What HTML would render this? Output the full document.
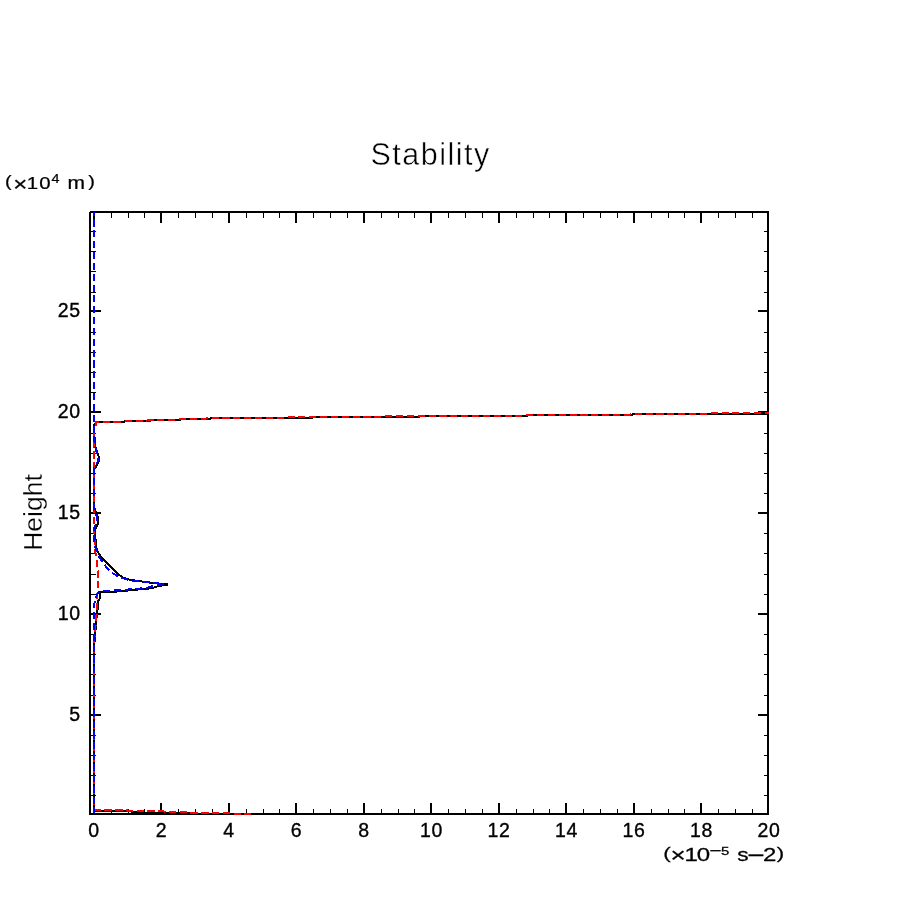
<!DOCTYPE html>
<html lang="en">
<head>
<meta charset="utf-8">
<title>Stability</title>
<style>
html,body{margin:0;padding:0;background:#fff;width:904px;height:904px;overflow:hidden}
svg{display:block}
text{font-family:"Liberation Sans",sans-serif;fill:#000}
</style>
</head>
<body>
<svg width="904" height="904" viewBox="0 0 904 904">
<rect x="0" y="0" width="904" height="904" fill="#fff"/>
<g shape-rendering="crispEdges">
<rect x="90" y="211" width="679" height="2" fill="#000"/>
<rect x="89" y="813" width="680" height="2" fill="#000"/>
<rect x="89" y="212" width="2" height="603" fill="#000"/>
<rect x="767" y="211" width="2" height="604" fill="#000"/>
<rect x="93" y="211" width="2" height="12" fill="#000"/>
<rect x="93" y="803" width="2" height="12" fill="#000"/>
<rect x="111" y="211" width="1" height="7" fill="#000"/>
<rect x="111" y="809" width="1" height="6" fill="#000"/>
<rect x="128" y="211" width="1" height="7" fill="#000"/>
<rect x="128" y="809" width="1" height="6" fill="#000"/>
<rect x="144" y="211" width="1" height="7" fill="#000"/>
<rect x="144" y="809" width="1" height="6" fill="#000"/>
<rect x="160" y="211" width="2" height="12" fill="#000"/>
<rect x="160" y="803" width="2" height="12" fill="#000"/>
<rect x="178" y="211" width="1" height="7" fill="#000"/>
<rect x="178" y="809" width="1" height="6" fill="#000"/>
<rect x="195" y="211" width="1" height="7" fill="#000"/>
<rect x="195" y="809" width="1" height="6" fill="#000"/>
<rect x="212" y="211" width="1" height="7" fill="#000"/>
<rect x="212" y="809" width="1" height="6" fill="#000"/>
<rect x="228" y="211" width="2" height="12" fill="#000"/>
<rect x="228" y="803" width="2" height="12" fill="#000"/>
<rect x="246" y="211" width="1" height="7" fill="#000"/>
<rect x="246" y="809" width="1" height="6" fill="#000"/>
<rect x="263" y="211" width="1" height="7" fill="#000"/>
<rect x="263" y="809" width="1" height="6" fill="#000"/>
<rect x="279" y="211" width="1" height="7" fill="#000"/>
<rect x="279" y="809" width="1" height="6" fill="#000"/>
<rect x="295" y="211" width="2" height="12" fill="#000"/>
<rect x="295" y="803" width="2" height="12" fill="#000"/>
<rect x="313" y="211" width="1" height="7" fill="#000"/>
<rect x="313" y="809" width="1" height="6" fill="#000"/>
<rect x="330" y="211" width="1" height="7" fill="#000"/>
<rect x="330" y="809" width="1" height="6" fill="#000"/>
<rect x="347" y="211" width="1" height="7" fill="#000"/>
<rect x="347" y="809" width="1" height="6" fill="#000"/>
<rect x="363" y="211" width="2" height="12" fill="#000"/>
<rect x="363" y="803" width="2" height="12" fill="#000"/>
<rect x="381" y="211" width="1" height="7" fill="#000"/>
<rect x="381" y="809" width="1" height="6" fill="#000"/>
<rect x="398" y="211" width="1" height="7" fill="#000"/>
<rect x="398" y="809" width="1" height="6" fill="#000"/>
<rect x="414" y="211" width="1" height="7" fill="#000"/>
<rect x="414" y="809" width="1" height="6" fill="#000"/>
<rect x="430" y="211" width="2" height="12" fill="#000"/>
<rect x="430" y="803" width="2" height="12" fill="#000"/>
<rect x="448" y="211" width="1" height="7" fill="#000"/>
<rect x="448" y="809" width="1" height="6" fill="#000"/>
<rect x="465" y="211" width="1" height="7" fill="#000"/>
<rect x="465" y="809" width="1" height="6" fill="#000"/>
<rect x="482" y="211" width="1" height="7" fill="#000"/>
<rect x="482" y="809" width="1" height="6" fill="#000"/>
<rect x="498" y="211" width="2" height="12" fill="#000"/>
<rect x="498" y="803" width="2" height="12" fill="#000"/>
<rect x="516" y="211" width="1" height="7" fill="#000"/>
<rect x="516" y="809" width="1" height="6" fill="#000"/>
<rect x="533" y="211" width="1" height="7" fill="#000"/>
<rect x="533" y="809" width="1" height="6" fill="#000"/>
<rect x="549" y="211" width="1" height="7" fill="#000"/>
<rect x="549" y="809" width="1" height="6" fill="#000"/>
<rect x="565" y="211" width="2" height="12" fill="#000"/>
<rect x="565" y="803" width="2" height="12" fill="#000"/>
<rect x="583" y="211" width="1" height="7" fill="#000"/>
<rect x="583" y="809" width="1" height="6" fill="#000"/>
<rect x="600" y="211" width="1" height="7" fill="#000"/>
<rect x="600" y="809" width="1" height="6" fill="#000"/>
<rect x="617" y="211" width="1" height="7" fill="#000"/>
<rect x="617" y="809" width="1" height="6" fill="#000"/>
<rect x="633" y="211" width="2" height="12" fill="#000"/>
<rect x="633" y="803" width="2" height="12" fill="#000"/>
<rect x="651" y="211" width="1" height="7" fill="#000"/>
<rect x="651" y="809" width="1" height="6" fill="#000"/>
<rect x="668" y="211" width="1" height="7" fill="#000"/>
<rect x="668" y="809" width="1" height="6" fill="#000"/>
<rect x="684" y="211" width="1" height="7" fill="#000"/>
<rect x="684" y="809" width="1" height="6" fill="#000"/>
<rect x="700" y="211" width="2" height="12" fill="#000"/>
<rect x="700" y="803" width="2" height="12" fill="#000"/>
<rect x="718" y="211" width="1" height="7" fill="#000"/>
<rect x="718" y="809" width="1" height="6" fill="#000"/>
<rect x="735" y="211" width="1" height="7" fill="#000"/>
<rect x="735" y="809" width="1" height="6" fill="#000"/>
<rect x="752" y="211" width="1" height="7" fill="#000"/>
<rect x="752" y="809" width="1" height="6" fill="#000"/>
<rect x="89" y="795" width="7" height="1" fill="#000"/>
<rect x="764" y="795" width="5" height="1" fill="#000"/>
<rect x="89" y="775" width="7" height="1" fill="#000"/>
<rect x="764" y="775" width="5" height="1" fill="#000"/>
<rect x="89" y="755" width="7" height="1" fill="#000"/>
<rect x="764" y="755" width="5" height="1" fill="#000"/>
<rect x="89" y="735" width="7" height="1" fill="#000"/>
<rect x="764" y="735" width="5" height="1" fill="#000"/>
<rect x="89" y="714" width="12" height="2" fill="#000"/>
<rect x="758" y="714" width="11" height="2" fill="#000"/>
<rect x="89" y="695" width="7" height="1" fill="#000"/>
<rect x="764" y="695" width="5" height="1" fill="#000"/>
<rect x="89" y="674" width="7" height="1" fill="#000"/>
<rect x="764" y="674" width="5" height="1" fill="#000"/>
<rect x="89" y="654" width="7" height="1" fill="#000"/>
<rect x="764" y="654" width="5" height="1" fill="#000"/>
<rect x="89" y="634" width="7" height="1" fill="#000"/>
<rect x="764" y="634" width="5" height="1" fill="#000"/>
<rect x="89" y="613" width="12" height="2" fill="#000"/>
<rect x="758" y="613" width="11" height="2" fill="#000"/>
<rect x="89" y="594" width="7" height="1" fill="#000"/>
<rect x="764" y="594" width="5" height="1" fill="#000"/>
<rect x="89" y="574" width="7" height="1" fill="#000"/>
<rect x="764" y="574" width="5" height="1" fill="#000"/>
<rect x="89" y="553" width="7" height="1" fill="#000"/>
<rect x="764" y="553" width="5" height="1" fill="#000"/>
<rect x="89" y="533" width="7" height="1" fill="#000"/>
<rect x="764" y="533" width="5" height="1" fill="#000"/>
<rect x="89" y="512" width="12" height="2" fill="#000"/>
<rect x="758" y="512" width="11" height="2" fill="#000"/>
<rect x="89" y="493" width="7" height="1" fill="#000"/>
<rect x="764" y="493" width="5" height="1" fill="#000"/>
<rect x="89" y="473" width="7" height="1" fill="#000"/>
<rect x="764" y="473" width="5" height="1" fill="#000"/>
<rect x="89" y="453" width="7" height="1" fill="#000"/>
<rect x="764" y="453" width="5" height="1" fill="#000"/>
<rect x="89" y="433" width="7" height="1" fill="#000"/>
<rect x="764" y="433" width="5" height="1" fill="#000"/>
<rect x="89" y="411" width="12" height="2" fill="#000"/>
<rect x="758" y="411" width="11" height="2" fill="#000"/>
<rect x="89" y="392" width="7" height="1" fill="#000"/>
<rect x="764" y="392" width="5" height="1" fill="#000"/>
<rect x="89" y="372" width="7" height="1" fill="#000"/>
<rect x="764" y="372" width="5" height="1" fill="#000"/>
<rect x="89" y="352" width="7" height="1" fill="#000"/>
<rect x="764" y="352" width="5" height="1" fill="#000"/>
<rect x="89" y="332" width="7" height="1" fill="#000"/>
<rect x="764" y="332" width="5" height="1" fill="#000"/>
<rect x="89" y="310" width="12" height="2" fill="#000"/>
<rect x="758" y="310" width="11" height="2" fill="#000"/>
<rect x="89" y="292" width="7" height="1" fill="#000"/>
<rect x="764" y="292" width="5" height="1" fill="#000"/>
<rect x="89" y="271" width="7" height="1" fill="#000"/>
<rect x="764" y="271" width="5" height="1" fill="#000"/>
<rect x="89" y="251" width="7" height="1" fill="#000"/>
<rect x="764" y="251" width="5" height="1" fill="#000"/>
<rect x="89" y="231" width="7" height="1" fill="#000"/>
<rect x="764" y="231" width="5" height="1" fill="#000"/>
</g>
<g shape-rendering="crispEdges">
<polyline points="769,414 633,414 632,415 528,415 527,416 420,416 419,417 313,417 312,418 211,418 210,419 181,419 180,420 151,420 150,421 125,421 124,422 96,422 96,423 94,425 94,437 95,438 95,445 96,449 98,455 99,457 99,461 97,465 95,468 94,470 94,507 95,509 96,513 98,517 98,523 97,526 95,529 95,538 96,541 96,547 97,550 98,552 99,554 103,559 108,564 113,569 118,574 123,577.4 128,579.3 137.8,581 147.8,582.3 157.7,583.6 167.5,584.5 157.7,586.3 151.7,588.3 137.8,589.5 125.8,590.8 113,591.8 100,592 100,598.5 98,601 98,608 97,611 97,616 96,620 96,628 95,632 95,640 94,643 94,809 95,811 128,811 135,812.3 170,813 210,814" fill="none" stroke="#000" stroke-width="2" stroke-linejoin="miter"/>
<polyline points="94,808 94,642 95,632 96,621 97,610 97,598 98,589 98,573 97,563 96,556 95,549 94,530 94,426" fill="none" stroke="#f00" stroke-width="2" stroke-linejoin="miter" stroke-dasharray="7.1 3.75" stroke-dashoffset="8.15"/>
<polyline points="96,426.2 96,422 121,422" fill="none" stroke="#f00" stroke-width="2" stroke-linejoin="miter" stroke-dasharray="7.1 3.75" stroke-dashoffset="0"/>
<polyline points="121,421 147,421" fill="none" stroke="#f00" stroke-width="2" stroke-linejoin="miter" stroke-dasharray="7.1 3.75" stroke-dashoffset="7.1"/>
<polyline points="147,420 178,420" fill="none" stroke="#f00" stroke-width="2" stroke-linejoin="miter" stroke-dasharray="7.1 3.75" stroke-dashoffset="0.55"/>
<polyline points="178,419 206,419" fill="none" stroke="#f00" stroke-width="2" stroke-linejoin="miter" stroke-dasharray="7.1 3.75" stroke-dashoffset="9.85"/>
<polyline points="206,418 284,418" fill="none" stroke="#f00" stroke-width="2" stroke-linejoin="miter" stroke-dasharray="7.1 3.75" stroke-dashoffset="5.3"/>
<polyline points="284,417 385,417" fill="none" stroke="#f00" stroke-width="2" stroke-linejoin="miter" stroke-dasharray="7.1 3.75" stroke-dashoffset="7.35"/>
<polyline points="385,416 525,416" fill="none" stroke="#f00" stroke-width="2" stroke-linejoin="miter" stroke-dasharray="7.1 3.75" stroke-dashoffset="10.7"/>
<polyline points="525,415 630,415" fill="none" stroke="#f00" stroke-width="2" stroke-linejoin="miter" stroke-dasharray="7.1 3.75" stroke-dashoffset="9.65"/>
<polyline points="630,414 708,414" fill="none" stroke="#f00" stroke-width="2" stroke-linejoin="miter" stroke-dasharray="7.1 3.75" stroke-dashoffset="6.15"/>
<polyline points="708,413 769,413" fill="none" stroke="#f00" stroke-width="2" stroke-linejoin="miter" stroke-dasharray="7.1 3.75" stroke-dashoffset="8.2"/>
<polyline points="94,810 126,810 129,811 162,811 166,812 205,812.8 251,814" fill="none" stroke="#f00" stroke-width="2" stroke-linejoin="miter" stroke-dasharray="7.4 3.4" stroke-dashoffset="0.45"/>
<polyline points="94,212 94,437 95,446 97,454 98,457 98,461 96,465 94,468.5 94,500" fill="none" stroke="#00f" stroke-width="2" stroke-linejoin="miter" stroke-dasharray="7.1 3.75" stroke-dashoffset="3.45"/>
<polyline points="94,640 94,610 94.5,603 96,597 98,592.8 100,591.3 107.9,591 117.9,590.1 127.8,589.5 137.8,588.8 147.8,587.6 151.7,586.3 156.7,585 164,584.3 157.7,583.3 147.8,582.3 137.8,581.2 129.8,580.3 123,578.3 118,576.4 113,573.4 108,569 103,563 98,555 96,550 95,545 94,540 94,528 96,525 97,522 97,517 95,512 94,509 94,500" fill="none" stroke="#00f" stroke-width="2" stroke-linejoin="miter" stroke-dasharray="7.1 3.75" stroke-dashoffset="0.85"/>
<polyline points="94,640 94,813" fill="none" stroke="#00f" stroke-width="2" stroke-linejoin="miter" stroke-dasharray="7.1 3.75" stroke-dashoffset="6.25"/>
</g>
<g>
<text x="430.6" y="164.5" font-size="30.5" text-anchor="middle" letter-spacing="1.5" stroke="#fff" stroke-width="0.5">Stability</text>
<text x="94.0" y="836.9" font-size="19.5" text-anchor="middle" letter-spacing="0.7" stroke="#000" stroke-width="0.35">0</text>
<text x="161.5" y="836.9" font-size="19.5" text-anchor="middle" letter-spacing="0.7" stroke="#000" stroke-width="0.35">2</text>
<text x="229.0" y="836.9" font-size="19.5" text-anchor="middle" letter-spacing="0.7" stroke="#000" stroke-width="0.35">4</text>
<text x="296.5" y="836.9" font-size="19.5" text-anchor="middle" letter-spacing="0.7" stroke="#000" stroke-width="0.35">6</text>
<text x="364.0" y="836.9" font-size="19.5" text-anchor="middle" letter-spacing="0.7" stroke="#000" stroke-width="0.35">8</text>
<text x="431.5" y="836.9" font-size="19.5" text-anchor="middle" letter-spacing="0.7" stroke="#000" stroke-width="0.35">10</text>
<text x="499.0" y="836.9" font-size="19.5" text-anchor="middle" letter-spacing="0.7" stroke="#000" stroke-width="0.35">12</text>
<text x="566.5" y="836.9" font-size="19.5" text-anchor="middle" letter-spacing="0.7" stroke="#000" stroke-width="0.35">14</text>
<text x="634.0" y="836.9" font-size="19.5" text-anchor="middle" letter-spacing="0.7" stroke="#000" stroke-width="0.35">16</text>
<text x="701.5" y="836.9" font-size="19.5" text-anchor="middle" letter-spacing="0.7" stroke="#000" stroke-width="0.35">18</text>
<text x="769.0" y="836.9" font-size="19.5" text-anchor="middle" letter-spacing="0.7" stroke="#000" stroke-width="0.35">20</text>
<text x="80.8" y="720.8" font-size="19.5" text-anchor="end" letter-spacing="0.7" stroke="#000" stroke-width="0.35">5</text>
<text x="80.8" y="619.8" font-size="19.5" text-anchor="end" letter-spacing="0.7" stroke="#000" stroke-width="0.35">10</text>
<text x="80.8" y="518.8" font-size="19.5" text-anchor="end" letter-spacing="0.7" stroke="#000" stroke-width="0.35">15</text>
<text x="80.8" y="417.8" font-size="19.5" text-anchor="end" letter-spacing="0.7" stroke="#000" stroke-width="0.35">20</text>
<text x="80.8" y="316.8" font-size="19.5" text-anchor="end" letter-spacing="0.7" stroke="#000" stroke-width="0.35">25</text>
<text transform="translate(42,512.5) rotate(-90)" font-size="26.5" text-anchor="middle" stroke="#fff" stroke-width="0.3">Height</text>
<text transform="scale(1.2,1)" stroke="#000" stroke-width="0.25"><tspan x="4.14" y="187.1" font-size="16.6">(</tspan><tspan x="11.11" y="190.6" font-size="20">×</tspan><tspan x="22.21" y="189" font-size="17">1</tspan><tspan x="32.67" y="189" font-size="17">0</tspan><tspan x="42.97" y="182.8" font-size="12">4</tspan><tspan font-size="17"> </tspan><tspan x="56.25" y="189" font-size="17.5">m</tspan><tspan x="73.57" y="187.1" font-size="16.6">)</tspan></text>
<text transform="scale(1.3,1)" stroke="#000" stroke-width="0.25"><tspan x="510.16" y="858.9" font-size="17.2">(</tspan><tspan x="515.77" y="862.2" font-size="20">×</tspan><tspan x="526.51" y="861" font-size="18.5">1</tspan><tspan x="535.89" y="861" font-size="18.5">0</tspan><tspan x="545.67" y="856.5" font-size="16">−</tspan><tspan x="554.62" y="855" font-size="11.5">5</tspan><tspan font-size="18.5"> </tspan><tspan x="567.13" y="861" font-size="17.5">s</tspan><tspan x="574.79" y="863" font-size="23">−</tspan><tspan x="586.92" y="861" font-size="18.5">2</tspan><tspan x="597.44" y="858.9" font-size="17.2">)</tspan></text>
</g>
</svg>
</body>
</html>
